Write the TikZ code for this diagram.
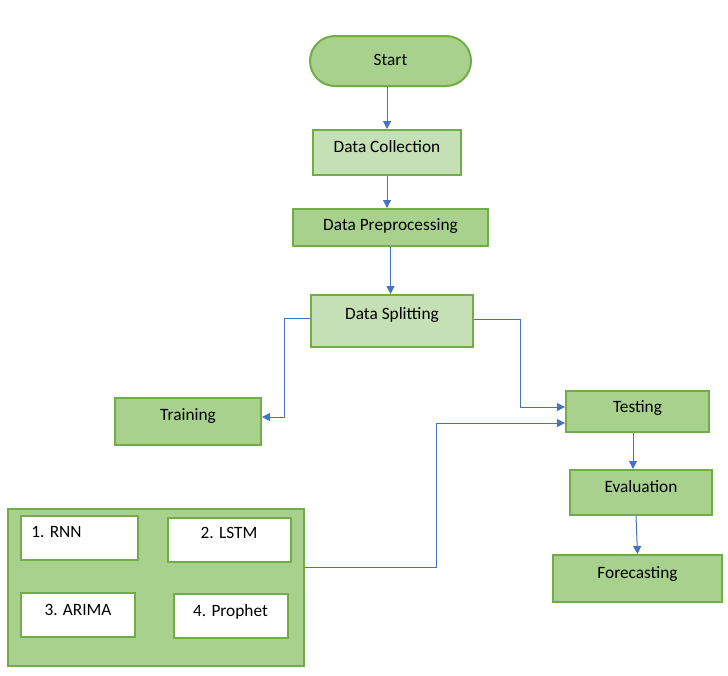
\documentclass[tikz,border=0pt]{standalone}
\usepackage{fontspec}
\setmainfont{Carlito}
\usetikzlibrary{arrows.meta,calc}
\definecolor{gdark}{HTML}{A9D18E}
\definecolor{glight}{HTML}{C5E0B4}
\definecolor{gborder}{HTML}{70AD47}
\definecolor{lblue}{HTML}{4472C4}
\newcommand{\rtx}[2]{\raisebox{#1pt}[\height][\depth]{#2}}
\tikzset{
  box/.style={draw=gborder, line width=2pt, fill=gdark, inner sep=0pt,
    text height=12pt, text depth=4pt, font=\fontsize{17.3}{20}\selectfont},
  lightbox/.style={box, fill=glight},
  whitebox/.style={box, fill=white},
  arr/.style={draw=lblue, line width=1pt, -{Triangle[length=8pt,width=8pt]}}
}
\begin{document}
\begin{tikzpicture}[x=1pt,y=-1pt]
\useasboundingbox (0,0) rectangle (728,675);
\node[box, rounded corners=25pt, minimum width=161pt, minimum height=50pt] (start) at (390.5,61) {Start};
\node[lightbox, minimum width=148pt, minimum height=45pt] (dc) at (387,152.5) {\rtx{4.5}{Data Collection}};
\node[box, minimum width=195pt, minimum height=37pt] (dp) at (390.5,227.5) {\rtx{1.5}{Data Preprocessing}};
\node[lightbox, minimum width=162pt, minimum height=52pt] (ds) at (392,321) {\rtx{5.5}{Data Splitting}};
\node[box, minimum width=146pt, minimum height=47pt] (train) at (188,421.5) {\rtx{5.5}{Training}};
\node[box, minimum width=143pt, minimum height=41pt] (test) at (637.5,411.5) {\rtx{3.5}{Testing}};
\node[box, minimum width=142pt, minimum height=45pt] (eval) at (641,492.5) {\rtx{4.5}{Evaluation}};
\node[box, minimum width=169pt, minimum height=47pt] (fore) at (637.5,578.5) {\rtx{4.5}{Forecasting}};
\node[box, minimum width=296pt, minimum height=157pt] (big) at (156,587.5) {};
\node[whitebox, minimum width=117pt, minimum height=44pt] (rnn) at (79.5,538) {\hspace*{-46pt}\rtx{4.5}{1. RNN}};
\node[whitebox, minimum width=123pt, minimum height=44pt] (lstm) at (229,540) {\rtx{5.5}{2. LSTM}};
\node[whitebox, minimum width=114pt, minimum height=44pt] (arima) at (78,614.5) {\rtx{3.5}{3. ARIMA}};
\node[whitebox, minimum width=114pt, minimum height=44pt] (prophet) at (230.5,616) {\rtx{3.5}{4. Prophet}};
\draw[arr] (dc.north |- start.south) -- (dc.north);
\draw[arr] (dc.south) -- (dc.south |- dp.north);
\draw[arr] (dp.south) -- (dp.south |- ds.north);
\draw[arr] ([yshift=3pt]ds.west) -- ++(-26,0) |- ([yshift=4.5pt]train.east);
\draw[arr] ([yshift=2pt]ds.east) -- ++(46,0) |- ([yshift=4.5pt]test.west);
\draw[arr] ([yshift=20.5pt]big.east) -- ++(131,0) |- ([yshift=-11.5pt]test.west);
\draw[arr] ([xshift=-4.5pt]test.south) -- ([xshift=-8pt]eval.north);
\draw[arr] ([xshift=-5pt]eval.south) -- (fore.north);
\end{tikzpicture}
\end{document}
